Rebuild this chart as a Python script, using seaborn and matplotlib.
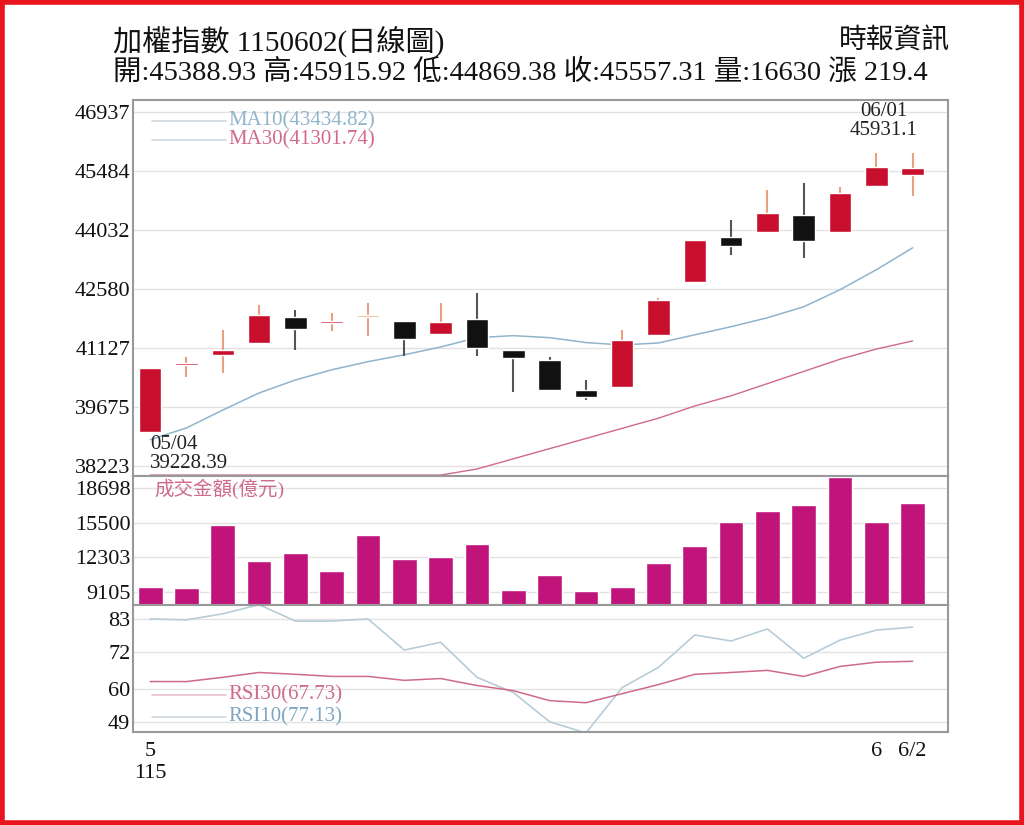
import matplotlib
matplotlib.use("Agg")
import matplotlib.pyplot as plt
import seaborn as sns
import numpy as np
import pandas as pd
from matplotlib.patches import Rectangle

sns.set_theme(style="white")
plt.rcParams['font.family'] = ['Liberation Serif', 'Noto Sans CJK TC', 'DejaVu Sans']

days = list(range(22))
opens  = [39065,40700,40960,41250,41890,41740,41890,41790,41470,41840,41080,40830,40100,40170,41450,42750,43860,43980,44400,43980,45120,45388]
closes = [40640,40750,41080,41940,41600,41770,41890,41350,41770,41130,40880,40100,39920,41330,42310,43790,43640,44450,43760,44940,45590,45557]
highs  = [40640,40910,41570,42190,42060,41990,42240,41800,42240,42480,41080,40900,40350,41570,42350,43790,44280,45000,45190,45090,45931,45916]
lows   = [39065,40420,40520,41250,41080,41550,41430,40930,41470,40930,40050,40100,39850,40170,41450,42750,43420,43980,43350,43980,45120,44869]
ma10 = [38870,39160,39600,40020,40340,40590,40790,40960,41150,41380,41430,41380,41260,41200,41250,41450,41650,41870,42140,42560,43050,43590]
ma30 = [38000]*9 + [38150,38400,38650,38900,39150,39400,39700,39950,40250,40550,40850,41100,41300]
volume = [9560,9470,15280,11960,12700,11040,14360,12140,12330,13530,9290,10670,9200,9560,11780,13350,15560,16570,17130,19700,15560,17300]
rsi10 = [83,82.7,84.7,87.7,82.3,82.3,83,72.7,75.3,63.7,58.7,49,45.3,60.3,67,77.7,75.7,79.7,70,76,79.3,80.3]
rsi30 = [62.3,62.3,63.7,65.3,64.7,64,64,62.7,63.3,61,59.3,56,55.3,58.3,61.3,64.7,65.3,66,64,67.3,68.7,69]
price_ticks = [38223,39675,41127,42580,44032,45484,46937]
vol_ticks = [9105,12303,15500,18698]
rsi_ticks = [49,60,72,83]

RED = '#c8102e'; BLK = '#111111'; MAG = '#c0147a'
BLUE = '#8fb4cc'; PINK = '#d06a8a'

fig = plt.figure(figsize=(10.24, 8.25), dpi=100)
L, W = 0.130, 0.796
ax1 = fig.add_axes([L, 0.423, W, 0.456])
ax2 = fig.add_axes([L, 0.267, W, 0.156], sharex=ax1)
ax3 = fig.add_axes([L, 0.113, W, 0.154], sharex=ax1)

df = pd.DataFrame(dict(d=days, o=opens, c=closes, h=highs, l=lows, ma10=ma10, ma30=ma30,
                       v=volume, r10=rsi10, r30=rsi30))

for _, r in df.iterrows():
    up = r.c > r.o
    flat = r.c == r.o
    col = '#e89a6a' if flat else (RED if up else BLK)
    wcol = '#e8a080' if (up or flat) else '#555555'
    ax1.vlines(r.d, r.l, r.h, color=wcol, lw=1.5, zorder=2)
    lo, hi = min(r.o, r.c), max(r.o, r.c)
    ax1.bar(r.d, max(hi - lo, 40), bottom=lo, width=0.62, color=col, zorder=3)
sns.lineplot(data=df, x='d', y='ma10', ax=ax1, color=BLUE, lw=1.1, zorder=1)
sns.lineplot(data=df, x='d', y='ma30', ax=ax1, color=PINK, lw=1.0, zorder=1)
ax1.set_ylim(37977, 47230)
ax1.set_yticks(price_ticks)

sns.barplot(data=df, x='d', y='v', ax=ax2, color=MAG, width=0.68, native_scale=True, saturation=1)
ax2.set_ylim(7906, 19800)
ax2.set_yticks(vol_ticks)

sns.lineplot(data=df, x='d', y='r10', ax=ax3, color='#b8ccd8', lw=1.2)
sns.lineplot(data=df, x='d', y='r30', ax=ax3, color=PINK, lw=1.1)
ax3.set_ylim(45.7, 87.7)
ax3.set_yticks(rsi_ticks)

for ax in (ax1, ax2, ax3):
    ax.set_xlim(-0.47, 21.98)
    ax.set_xlabel(''); ax.set_ylabel('')
    ax.grid(axis='y', color='#e2e2e2', lw=1)
    ax.set_axisbelow(True)
    for s in ax.spines.values():
        s.set_color('#999999'); s.set_linewidth(1.5)
    ax.tick_params(axis='y', labelsize=16, length=0, pad=2, colors='#111111')
for ax in (ax1, ax2):
    ax.tick_params(axis='x', bottom=False, labelbottom=False)
ax3.set_xticks([0, 20, 21])
ax3.set_xticklabels(['5\n115', '6', '6/2'])
ax3.tick_params(axis='x', labelsize=16, length=4, colors='#111111')

ax1.text(0, 39228 - 250, '05/04\n39228.39', fontsize=15, va='top', ha='left', color='#222', linespacing=1.0)
ax1.text(20.2, 45931 + 300, '06/01\n45931.1', fontsize=15, va='bottom', ha='center', color='#222', linespacing=1.0)
ax1.plot([0.05, 2.1], [46720, 46720], color='#cfd8de', lw=1.2)
ax1.plot([0.05, 2.1], [46250, 46250], color='#cfd8de', lw=1.2)
ax1.text(2.15, 46720, 'MA10(43434.82)', fontsize=15, color=BLUE, va='center')
ax1.text(2.15, 46250, 'MA30(41301.74)', fontsize=15, color=PINK, va='center')
ax2.text(0.1, 18600, '成交金額(億元)', fontsize=14, color=PINK, va='center')
ax3.plot([0.05, 2.1], [58, 58], color='#e8c0cc', lw=1.2)
ax3.plot([0.05, 2.1], [50.5, 50.5], color='#cfd8de', lw=1.2)
ax3.text(2.15, 58, 'RSI30(67.73)', fontsize=15, color=PINK, va='center')
ax3.text(2.15, 50.5, 'RSI10(77.13)', fontsize=15, color='#7fa6c0', va='center')

fig.text(0.110, 0.950, '加權指數 1150602(日線圖)', fontsize=21, color='#111', va='center')
fig.text(0.928, 0.950, '時報資訊', fontsize=20, color='#111', va='center', ha='right')
fig.text(0.110, 0.912, '開:45388.93 高:45915.92 低:44869.38 收:45557.31 量:16630 漲 219.4',
         fontsize=20.5, color='#111', va='center')

fig.patches.append(Rectangle((0.002, 0.003), 0.996, 0.994, transform=fig.transFigure,
                             fill=False, edgecolor='#e8141e', lw=4))
fig.savefig('out.png', dpi=100, facecolor='white')
